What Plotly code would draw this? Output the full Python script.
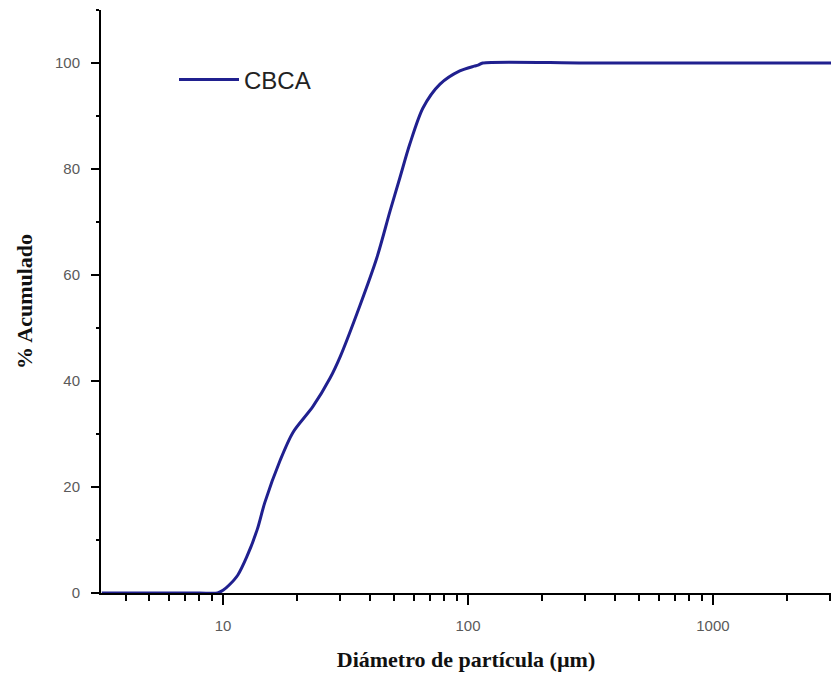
import plotly.graph_objects as go

# Data (particle diameter in µm, cumulative %)
diametro = [3.2, 5, 8, 9.5, 10, 10.6, 11.5, 12.5, 13.8, 14.8, 17.1, 19.3, 23.3, 27.4,
            30.1, 36.2, 42.5, 48.1, 52.7, 57.9, 65.5, 76.9, 92.6, 106, 110, 115, 300, 1000, 3100]
acumulado = [0, 0, 0, 0, 0.5, 1.5, 3.4, 6.8, 12.0, 17.0, 25.0, 30.3, 35.2, 40.6,
             44.6, 54.2, 63.3, 72.1, 78.3, 84.7, 91.5, 96.0, 98.5, 99.4, 99.6, 100, 100, 100, 100]
serie = "CBCA"
x_ticks = [10, 100, 1000]
y_ticks = [0, 20, 40, 60, 80, 100]

fig = go.Figure()
fig.add_trace(go.Scatter(
    x=diametro, y=acumulado, mode="lines", name=serie,
    line=dict(color="#20208f", width=3, shape="spline", smoothing=0.8),
))

fig.update_layout(
    width=831, height=680,
    margin=dict(l=101, r=0, t=10, b=87),
    paper_bgcolor="white", plot_bgcolor="white",
    showlegend=True,
    legend=dict(x=0.1, y=0.88, xanchor="left", yanchor="middle",
                itemwidth=60,
                bgcolor="rgba(0,0,0,0)",
                font=dict(family="Liberation Sans, Arial", size=24, color="#222222")),
    font=dict(family="Liberation Sans, Arial"),
)

fig.update_xaxes(
    type="log", range=[0.502, 3.482],
    tickvals=x_ticks, ticktext=[str(v) for v in x_ticks],
    ticks="outside", ticklen=10, tickwidth=2, tickcolor="black",
    minor=dict(ticks="outside", ticklen=6, tickwidth=2, tickcolor="black", dtick="D1", showgrid=False),
    showline=True, linecolor="black", linewidth=2,
    showgrid=False, zeroline=False,
    ticklabelstandoff=8,
    tickfont=dict(family="Liberation Sans, Arial", size=15, color="#5a5a5a"),
    title=dict(text="<b>Diámetro de partícula (µm)</b>", standoff=19,
               font=dict(family="Liberation Serif, Times New Roman", size=22, color="#111111")),
)

fig.update_yaxes(
    range=[0, 110],
    tickvals=y_ticks,
    ticks="outside", ticklen=8, tickwidth=2, tickcolor="black",
    minor=dict(ticks="outside", ticklen=3, tickwidth=2, tickcolor="black", dtick=10, showgrid=False),
    showline=True, linecolor="black", linewidth=2,
    showgrid=False, zeroline=False,
    ticklabelstandoff=8,
    tickfont=dict(family="Liberation Sans, Arial", size=15, color="#5a5a5a"),
    title=dict(text="<b>% Acumulado</b>", standoff=16,
               font=dict(family="Liberation Serif, Times New Roman", size=22, color="#111111")),
)

fig.write_html("out.html")
